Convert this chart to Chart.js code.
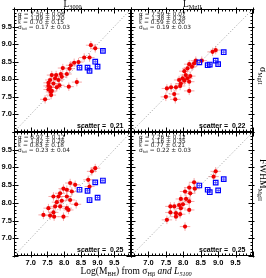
<!DOCTYPE html>
<html><head><meta charset="utf-8">
<script src="https://cdn.jsdelivr.net/npm/chart.js@4.4.1/dist/chart.umd.min.js"></script>
<style>
html,body{margin:0;padding:0;background:#fff;}
#wrap{position:relative;width:266px;height:278px;overflow:hidden;background:#fff;}
canvas{position:absolute;left:0;top:0;}
.t{position:absolute;white-space:nowrap;color:#000;line-height:1;}
.st{font-family:"DejaVu Sans",sans-serif;font-size:5.8px;color:#222;}
.sc{font-family:"Liberation Sans",Arial,sans-serif;font-weight:bold;font-size:7px;}
.serif{font-family:"Liberation Serif","Times New Roman",serif;}
sub{font-size:65%;vertical-align:-0.25em;line-height:0;}
</style></head><body>
<div id="wrap">
<canvas id="c0" width="266" height="278"></canvas>
<canvas id="c1" width="266" height="278"></canvas>
<canvas id="c2" width="266" height="278"></canvas>
<canvas id="c3" width="266" height="278"></canvas>
</div>
<script>
// ---- axes ----
const AX_MIN = 6.5, AX_MAX = 10.0;
const MAJOR_TICKS = [6.5, 7.0, 7.5, 8.0, 8.5, 9.0, 9.5, 10.0];
const TICK_LABELS = [7.0, 7.5, 8.0, 8.5, 9.0, 9.5];
const MINOR_STEP = 0.1;
const DIAG = [6.5, 10.0];

// ---- panel titles / stats ----
const PANEL_TITLES = ['L<sub>3000</sub>', 'L<sub>MgII</sub>'];
const RIGHT_LABELS = ['σ<sub>MgII</sub>', 'FWHM<sub>MgII</sub>'];
const STAT_NAMES = ['α', 'β', 'ε', 'σ<sub>tot</sub>'];
const STATS_TL = ['7.50 ± 0.06', '1.09 ± 0.20', '0.70 ± 0.15', '0.17 ± 0.03'];
const STATS_TR = ['7.59 ± 0.07', '1.38 ± 0.28', '0.59 ± 0.20', '0.19 ± 0.03'];
const STATS_BL = ['6.97 ± 0.12', '1.82 ± 0.26', '0.83 ± 0.18', '0.23 ± 0.04'];
const STATS_BR = ['7.26 ± 0.12', '1.16 ± 0.35', '0.77 ± 0.21', '0.22 ± 0.03'];
const SCATTER = ['0.21', '0.22', '0.25', '0.25'];

// ---- data: top-left (L3000, sigma) ----
const TL_RED_X = [8.80, 8.93, 8.76, 8.60, 8.43, 8.30, 8.20, 8.16, 7.96, 7.90, 7.76, 8.08, 7.63, 7.93, 7.73, 7.83, 7.58, 7.53, 7.68, 7.86, 7.53, 7.58, 7.78, 8.14, 8.38, 7.53, 7.63, 7.43, 7.61, 7.60];
const TL_RED_Y = [8.97, 8.88, 8.62, 8.62, 8.49, 8.47, 8.40, 8.30, 8.32, 8.15, 8.12, 8.15, 8.12, 8.07, 8.03, 7.98, 7.98, 7.90, 7.88, 7.83, 7.81, 7.77, 7.77, 7.79, 7.92, 7.71, 7.67, 7.43, 7.55, 7.64];
const TL_BLUE_X = [9.16, 8.93, 9.00, 8.46, 8.70, 8.76];
const TL_BLUE_Y = [8.81, 8.50, 8.36, 8.33, 8.33, 8.24];
// ---- top-right (LMgII, sigma) ----
const TR_RED_X = [8.93, 8.84, 8.53, 8.36, 8.31, 8.17, 8.25, 8.12, 8.03, 8.07, 8.20, 7.98, 8.12, 7.88, 8.03, 8.17, 7.93, 7.65, 7.79, 7.91, 8.17, 7.53, 7.74, 7.50, 7.77];
const TR_RED_Y = [8.83, 8.78, 8.53, 8.53, 8.45, 8.43, 8.36, 8.31, 8.23, 8.12, 8.09, 8.03, 8.03, 7.98, 7.96, 7.93, 7.88, 7.77, 7.77, 7.81, 7.67, 7.74, 7.58, 7.50, 7.43];
const TR_BLUE_X = [9.16, 8.93, 8.46, 8.70, 8.76, 9.00];
const TR_BLUE_Y = [8.77, 8.53, 8.48, 8.40, 8.42, 8.43];
// ---- bottom-left (L3000, FWHM) ----
const BL_RED_X = [8.93, 8.83, 8.72, 8.76, 8.33, 8.18, 8.08, 8.23, 7.98, 7.88, 7.68, 7.83, 8.08, 8.18, 7.93, 7.78, 7.73, 7.88, 7.53, 8.08, 8.36, 8.13, 7.68, 7.38, 7.58, 7.70, 7.98];
const BL_RED_Y = [8.98, 8.89, 8.65, 8.46, 8.51, 8.56, 8.37, 8.32, 8.40, 8.27, 8.18, 8.18, 8.18, 8.08, 8.06, 8.02, 7.90, 7.90, 7.85, 7.85, 7.96, 7.80, 7.73, 7.66, 7.64, 7.61, 7.61];
const BL_BLUE_X = [9.16, 8.93, 8.46, 8.70, 9.00, 8.76];
const BL_BLUE_Y = [8.63, 8.58, 8.37, 8.34, 8.15, 8.08];
// ---- bottom-right (LMgII, FWHM) ----
const BR_RED_X = [8.93, 8.87, 8.31, 8.17, 8.33, 8.05, 8.20, 7.93, 8.08, 8.17, 7.88, 7.99, 7.74, 7.93, 7.63, 8.17, 7.63, 7.79, 7.91, 7.79, 7.53, 8.05];
const BR_RED_Y = [8.89, 8.74, 8.58, 8.43, 8.40, 8.32, 8.27, 8.11, 8.11, 8.04, 7.94, 7.96, 7.90, 7.85, 7.90, 7.80, 7.73, 7.71, 7.68, 7.61, 7.52, 7.33];
const BR_BLUE_X = [9.16, 8.93, 8.46, 8.70, 8.76, 9.00];
const BR_BLUE_Y = [8.67, 8.57, 8.49, 8.37, 8.30, 8.35];

// typical measurement errors
const RED_ERR_X = 0.15, RED_ERR_Y = 0.12;
const BLUE_ERR_X = 0.05, BLUE_ERR_Y = 0.05;

// ---- styling / layout ----
const W = 266, H = 278;
const RED = '#ee0000', RED_ERR = 'rgba(240,130,130,0.7)';
const BLUE = '#0000ff', BLUE_ERR = 'rgba(60,60,255,0.8)';
const PANELS = [
  {id:'c0', area:{l:14, t:9, r:131, b:132}, rx:TL_RED_X, ry:TL_RED_Y, bx:TL_BLUE_X, by:TL_BLUE_Y, showX:false, showY:true, stats:STATS_TL, sc:SCATTER[0], soff:4},
  {id:'c1', area:{l:131, t:9, r:253, b:132}, rx:TR_RED_X, ry:TR_RED_Y, bx:TR_BLUE_X, by:TR_BLUE_Y, showX:false, showY:false, stats:STATS_TR, sc:SCATTER[1], soff:8},
  {id:'c2', area:{l:14, t:132, r:131, b:256}, rx:BL_RED_X, ry:BL_RED_Y, bx:BL_BLUE_X, by:BL_BLUE_Y, showX:true, showY:true, stats:STATS_BL, sc:SCATTER[2], soff:4},
  {id:'c3', area:{l:131, t:132, r:253, b:256}, rx:BR_RED_X, ry:BR_RED_Y, bx:BR_BLUE_X, by:BR_BLUE_Y, showX:true, showY:false, stats:STATS_BR, sc:SCATTER[3], soff:8}
];
const XAXIS_H = 12;

const errorBars = {
  id:'errorBars',
  beforeDatasetsDraw(chart){
    const {ctx, chartArea:a, scales:{x, y}} = chart;
    ctx.save();
    ctx.beginPath(); ctx.rect(a.left, a.top, a.right - a.left, a.bottom - a.top); ctx.clip();
    chart.data.datasets.forEach(ds => {
      if (ds.errX === undefined) return;
      ctx.strokeStyle = ds.errColor; ctx.lineWidth = 1;
      ds.data.forEach(p => {
        const px = x.getPixelForValue(p.x), py = y.getPixelForValue(p.y);
        ctx.beginPath();
        ctx.moveTo(x.getPixelForValue(p.x - ds.errX), py);
        ctx.lineTo(x.getPixelForValue(p.x + ds.errX), py);
        ctx.moveTo(px, y.getPixelForValue(p.y - ds.errY));
        ctx.lineTo(px, y.getPixelForValue(p.y + ds.errY));
        ctx.stroke();
      });
    });
    ctx.restore();
  }
};

const frameTicks = {
  id:'frameTicks',
  afterDatasetsDraw(chart){
    const {ctx, chartArea:a, scales:{x, y}} = chart;
    ctx.save();
    ctx.strokeStyle = '#000'; ctx.lineWidth = 1;
    const L = Math.round(a.left) + 0.5, R = Math.round(a.right) - 0.5;
    const T = Math.round(a.top) + 0.5, B = Math.round(a.bottom) - 0.5;
    ctx.strokeRect(L, T, R - L, B - T);
    ctx.beginPath();
    const n = Math.round((AX_MAX - AX_MIN) / MINOR_STEP);
    for (let i = 0; i <= n; i++) {
      const v = AX_MIN + i * MINOR_STEP;
      const major = MAJOR_TICKS.some(m => Math.abs(m - v) < 1e-6);
      const len = major ? 4 : 2;
      const out = major ? 2 : 0;
      const px = Math.round(x.getPixelForValue(v)) + 0.5;
      const py = Math.round(y.getPixelForValue(v)) + 0.5;
      ctx.moveTo(px, B + out); ctx.lineTo(px, B - len);
      ctx.moveTo(px, T - out); ctx.lineTo(px, T + len);
      ctx.moveTo(L - out, py); ctx.lineTo(L + len, py);
      ctx.moveTo(R + out, py); ctx.lineTo(R - len, py);
    }
    ctx.stroke();
    ctx.restore();
  }
};

function setTicks(scale){ scale.ticks = TICK_LABELS.map(v => ({value:v})); }
const tickFont = {family:'"Liberation Sans", Arial, sans-serif', size:7.5, weight:'bold'};

PANELS.forEach(p => {
  const a = p.area;
  const pad = {
    left: p.showY ? 0 : a.l,
    top: a.t,
    right: W - a.r,
    bottom: p.showX ? H - a.b - XAXIS_H : H - a.b
  };
  new Chart(document.getElementById(p.id), {
    type:'scatter',
    data:{datasets:[
      {type:'line', data:DIAG.map(v => ({x:v, y:v})), borderColor:'#9a9a9a', borderWidth:1, borderDash:[1,2], pointRadius:0, order:3},
      {data:p.rx.map((v, i) => ({x:v, y:p.ry[i]})), pointStyle:'circle', pointRadius:2.1, backgroundColor:RED, borderColor:RED, borderWidth:0, errX:RED_ERR_X, errY:RED_ERR_Y, errColor:RED_ERR, order:2},
      {data:p.bx.map((v, i) => ({x:v, y:p.by[i]})), pointStyle:'rect', pointRadius:3.2, backgroundColor:'rgba(0,0,0,0)', borderColor:BLUE, borderWidth:1.2, errX:BLUE_ERR_X, errY:BLUE_ERR_Y, errColor:BLUE_ERR, order:1}
    ]},
    options:{
      responsive:false, animation:false, devicePixelRatio:1,
      layout:{padding:pad, autoPadding:false},
      plugins:{legend:{display:false}, tooltip:{enabled:false}},
      scales:{
        x:{type:'linear', min:AX_MIN, max:AX_MAX, display:p.showX,
           afterBuildTicks:setTicks,
           afterFit(s){ s.height = p.showX ? XAXIS_H : 0; },
           grid:{display:false, drawTicks:false}, border:{display:false},
           ticks:{font:tickFont, color:'#000', padding:2, maxRotation:0, autoSkip:false, callback:v => v.toFixed(1)}},
        y:{type:'linear', min:AX_MIN, max:AX_MAX, display:p.showY,
           afterBuildTicks:setTicks,
           afterFit(s){ s.width = p.showY ? a.l : 0; },
           grid:{display:false, drawTicks:false}, border:{display:false},
           ticks:{font:tickFont, color:'#000', padding:2, autoSkip:false, callback:v => v.toFixed(1)}}
      }
    },
    plugins:[errorBars, frameTicks]
  });
});

// ---- text elements ----
const wrap = document.getElementById('wrap');
function addText(html, cls, style){
  const d = document.createElement('div');
  d.className = 't ' + cls; d.innerHTML = html;
  Object.assign(d.style, style);
  wrap.appendChild(d);
  return d;
}
PANELS.forEach(p => {
  const a = p.area;
  const tops = [2.5, 6.8, 11.1, 15.6];
  p.stats.forEach((s, i) => {
    addText(STAT_NAMES[i] + ' = ' + s, 'st', {left:(a.l + p.soff) + 'px', top:(a.t + tops[i]) + 'px'});
  });
  const sc = addText('scatter =&nbsp; ' + p.sc, 'sc', {top:(a.b - 10) + 'px'});
  sc.style.left = (a.r - 7 - sc.offsetWidth) + 'px';
});
[[PANELS[0], 0], [PANELS[1], 1]].forEach(([p, i]) => {
  const d = addText(PANEL_TITLES[i], 'serif', {fontSize:'9.5px', top:'0px'});
  d.style.left = ((p.area.l + p.area.r) / 2 - d.offsetWidth / 2) + 'px';
});
[[PANELS[1], 0, 76], [PANELS[3], 1, 180]].forEach(([p, i, cy]) => {
  addText(RIGHT_LABELS[i], 'serif', {fontSize:'9.5px', left:'262px', top:cy + 'px', transform:'translate(-50%,-50%) rotate(90deg)'});
});
const xt = addText('Log(M<sub>BH</sub>) from σ<sub>Hβ</sub> <i>and L<sub>5100</sub></i>', 'serif', {fontSize:'9.5px', top:'267px'});
xt.style.left = (136 - xt.offsetWidth / 2) + 'px';
</script>
</body></html>
